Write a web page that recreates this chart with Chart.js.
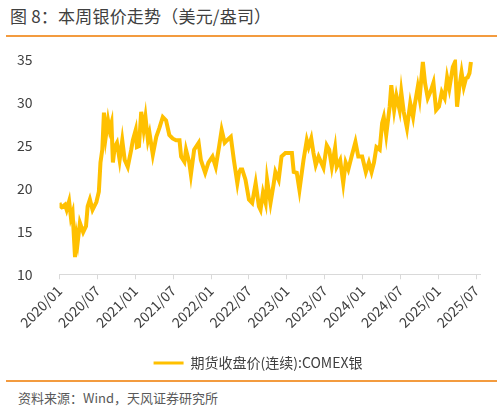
<!DOCTYPE html>
<html>
<head>
<meta charset="utf-8">
<script src="https://cdn.jsdelivr.net/npm/chart.js@4.4.1/dist/chart.umd.min.js"></script>
<style>
  html, body { margin: 0; padding: 0; background: #fff; }
  body { width: 502px; height: 410px; position: relative; overflow: hidden;
         font-family: "Noto Sans CJK SC", "Noto Sans", sans-serif; }
  #title { position: absolute; left: 10px; top: 3px; font-size: 17px; color: #404040; white-space: nowrap; letter-spacing: 0.2px; }
  .rule { position: absolute; left: 6px; width: 491px; height: 2px; background: #F39B3F; }
  #box { position: absolute; left: -2px; top: 32px; width: 504px; height: 348px; }
  #source { position: absolute; left: 18px; top: 388px; font-size: 13px; color: #595959; white-space: nowrap; }
</style>
</head>
<body>
<div id="title">图 8：本周银价走势（美元/盎司）</div>
<div class="rule" style="top:35px"></div>
<div id="box"><canvas id="mycanvas1"></canvas></div>
<div class="rule" style="top:380px"></div>
<div id="source">资料来源：Wind，天风证券研究所</div>
<script>
// 期货收盘价(连续):COMEX银, 美元/盎司
var dates = [
  "2020-01-01","2020-01-06","2020-01-12","2020-01-28","2020-02-05","2020-02-17","2020-02-26","2020-03-03",
  "2020-03-15","2020-03-23","2020-03-28","2020-04-08","2020-04-24","2020-05-07","2020-05-15","2020-05-26",
  "2020-06-08","2020-06-27","2020-07-08","2020-07-16","2020-07-25","2020-08-02","2020-08-11","2020-08-22",
  "2020-08-30","2020-09-08","2020-09-15","2020-09-24","2020-10-04","2020-10-17","2020-10-30","2020-11-11",
  "2020-11-26","2020-12-12","2020-12-20","2021-01-03","2021-01-09","2021-01-19","2021-01-30","2021-02-11",
  "2021-02-20","2021-03-01","2021-03-09","2021-03-25","2021-04-11","2021-04-26","2021-05-12","2021-05-28",
  "2021-06-13","2021-06-29","2021-07-15","2021-08-01","2021-08-09","2021-08-25","2021-09-02","2021-09-18",
  "2021-09-26","2021-10-11","2021-11-02","2021-11-13","2021-12-03","2021-12-19","2022-01-08","2022-01-24",
  "2022-02-09","2022-02-22","2022-03-06","2022-03-18","2022-04-05","2022-04-20","2022-05-06","2022-05-14",
  "2022-05-22","2022-05-30","2022-06-15","2022-07-01","2022-07-17","2022-08-03","2022-08-19","2022-08-27",
  "2022-09-08","2022-09-21","2022-09-28","2022-10-14","2022-10-30","2022-11-07","2022-11-23","2022-12-06",
  "2022-12-25","2023-01-26","2023-02-04","2023-02-19","2023-03-01","2023-03-21","2023-04-06","2023-04-15",
  "2023-04-28","2023-05-08","2023-05-19","2023-06-02","2023-06-26","2023-07-11","2023-07-23","2023-08-05",
  "2023-08-21","2023-08-29","2023-09-15","2023-09-30","2023-10-11","2023-10-24","2023-11-09","2023-11-28",
  "2023-12-11","2023-12-30","2024-01-17","2024-02-01","2024-02-14","2024-02-26","2024-03-07","2024-03-23",
  "2024-04-04","2024-04-12","2024-04-24","2024-05-10","2024-05-18","2024-06-01","2024-06-12","2024-06-28",
  "2024-07-05","2024-07-17","2024-08-02","2024-08-18","2024-09-01","2024-09-09","2024-09-24","2024-10-02",
  "2024-10-18","2024-10-29","2024-11-11","2024-11-27","2024-12-08","2024-12-21","2025-01-04","2025-01-18",
  "2025-02-01","2025-02-13","2025-02-24","2025-03-10","2025-03-21","2025-03-31","2025-04-11","2025-04-22",
  "2025-05-02","2025-05-13","2025-05-21","2025-05-30","2025-06-06"
];
var silver = [
  18.3,17.9,17.8,18.1,17.5,18.5,16.6,17.2,
  12.0,14.4,13.7,16.0,14.9,15.6,17.9,18.7,
  17.5,18.4,19.6,23.0,24.5,28.8,26.0,27.9,
  26.8,27.6,23.0,24.8,25.3,23.3,25.6,23.3,
  22.5,24.5,25.6,26.8,24.8,24.9,28.9,26.8,
  28.3,25.6,26.4,23.9,26.0,27.0,28.3,27.9,
  26.2,25.8,25.6,25.6,23.7,23.1,24.5,23.0,
  21.6,24.5,25.3,23.3,21.8,23.0,23.7,22.5,
  24.8,26.8,25.3,25.6,26.0,23.3,20.6,21.8,
  22.2,22.2,21.0,18.7,18.3,20.6,17.9,17.5,
  19.5,18.3,21.0,18.3,20.6,21.9,21.0,23.7,
  24.1,24.1,21.9,21.8,19.8,23.3,25.6,24.8,
  25.8,24.1,22.7,23.7,22.4,25.0,24.5,22.5,
  24.7,22.5,23.3,20.6,23.0,22.2,23.7,25.4,
  23.7,23.7,21.9,23.0,21.9,23.0,24.8,24.5,
  27.6,28.3,26.2,29.5,32.0,29.1,30.8,29.1,
  31.2,28.9,27.0,29.9,28.3,29.7,31.8,30.5,
  34.7,32.2,30.5,31.4,32.3,29.1,29.5,31.2,
  30.5,32.9,31.6,34.1,34.7,29.5,31.8,33.5,
  31.8,32.8,32.9,33.4,34.7
];
var tickLabels = ["2020/01","2020/07","2021/01","2021/07","2022/01","2022/07",
                  "2023/01","2023/07","2024/01","2024/07","2025/01","2025/07"];
var yTicks = [10, 15, 20, 25, 30, 35];

// months since 2020/01
function toMonth(s) {
  var p = s.split("-");
  return (parseInt(p[0]) - 2020) * 12 + (parseInt(p[1]) - 1) + (parseInt(p[2]) - 1) / 31;
}
function labelToMonth(s) {
  var p = s.split("/");
  return (parseInt(p[0]) - 2020) * 12 + (parseInt(p[1]) - 1);
}

var points = dates.map(function (d, i) { return { x: toMonth(d), y: silver[i] }; });
var tickPos = tickLabels.map(labelToMonth);

// nudge the legend a little to the right, as in the original
var legendShift = {
  id: "legendShift",
  afterLayout: function (chart) {
    var lg = chart.legend;
    if (lg) { lg.left += 19; lg.right += 19; }
  }
};

var font = "'Noto Sans CJK SC', 'Noto Sans', sans-serif";
var ctx = document.getElementById("mycanvas1").getContext("2d");
var myChart = new Chart(ctx, {
  type: "line",
  data: {
    datasets: [{
      label: "期货收盘价(连续):COMEX银",
      data: points,
      borderColor: "#FFC000",
      backgroundColor: "#FFC000",
      borderWidth: 4,
      pointRadius: 0,
      tension: 0
    }]
  },
  plugins: [legendShift],
  options: {
    responsive: true,
    maintainAspectRatio: false,
    animation: false,
    layout: { padding: { top: 4, right: 22, left: 0, bottom: 0 } },
    plugins: {
      tooltip: { enabled: false },
      legend: {
        position: "bottom",
        labels: {
          boxWidth: 30, boxHeight: 3, padding: 22,
          color: "#404040",
          font: { family: font, size: 14 },
          generateLabels: function (chart) {
            return chart.data.datasets.map(function (ds, i) {
              return { text: ds.label, fillStyle: ds.borderColor, strokeStyle: ds.borderColor,
                       lineWidth: 0, fontColor: "#404040", datasetIndex: i };
            });
          }
        }
      }
    },
    scales: {
      x: {
        type: "linear",
        min: 0,
        max: 66.6,
        afterBuildTicks: function (axis) {
          axis.ticks = tickPos.map(function (v) { return { value: v }; });
        },
        ticks: {
          autoSkip: false,
          minRotation: 45, maxRotation: 45,
          color: "#404040",
          font: { family: font, size: 14 },
          callback: function (v) {
            var i = tickPos.indexOf(v);
            return i >= 0 ? tickLabels[i] : "";
          }
        },
        grid: { drawOnChartArea: false, drawTicks: true, tickLength: 5, color: "#D9D9D9" },
        border: { display: true, color: "#D9D9D9", width: 1 }
      },
      y: {
        min: 10, max: 35,
        afterBuildTicks: function (axis) {
          axis.ticks = yTicks.map(function (v) { return { value: v }; });
        },
        ticks: { color: "#404040", padding: 19, font: { family: font, size: 14 } },
        grid: { display: false },
        border: { display: false }
      }
    }
  }
});
</script>
</body>
</html>
